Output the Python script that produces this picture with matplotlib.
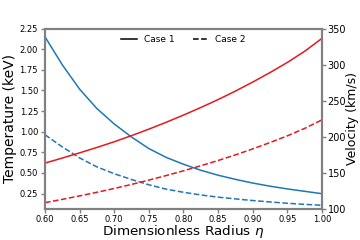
import matplotlib
matplotlib.use("Agg")
import matplotlib.pyplot as plt
import numpy as np

eta = [0.600, 0.625, 0.650, 0.675, 0.700, 0.725, 0.750, 0.775, 0.800,
       0.825, 0.850, 0.875, 0.900, 0.925, 0.950, 0.975, 1.000]

temp_case1 = [2.15, 1.81, 1.515, 1.280, 1.093, 0.935, 0.795, 0.688, 0.605,
              0.532, 0.472, 0.422, 0.377, 0.339, 0.306, 0.277, 0.248]
temp_case2 = [0.963, 0.815, 0.682, 0.573, 0.490, 0.420, 0.356, 0.303, 0.265,
              0.233, 0.206, 0.185, 0.165, 0.148, 0.132, 0.119, 0.107]

vel_case1 = [163.4, 170.4, 177.6, 185.1, 193.0, 201.5, 210.5, 220.0, 230.0,
             240.5, 251.5, 263.3, 275.8, 289.0, 303.0, 318.5, 336.4]
vel_case2 = [108.5, 113.1, 117.9, 122.9, 128.2, 133.8, 139.8, 146.1, 152.7,
             159.7, 167.0, 174.8, 183.1, 191.9, 201.2, 211.5, 223.4]

legend_labels = ["Case 1", "Case 2"]

blue = "#1f77b4"
red = "#e31a1c"
spine_gray = "#808080"

fig = plt.figure(figsize=(3.6, 2.4), dpi=100)
ax = fig.add_axes([0.125, 0.130, 0.7694, 0.751])
ax2 = ax.twinx()

ax.plot(eta, temp_case1, color=blue, lw=1.1, ls="-")
ax.plot(eta, temp_case2, color=blue, lw=1.1, ls="--")
ax2.plot(eta, vel_case1, color=red, lw=1.1, ls="-")
ax2.plot(eta, vel_case2, color=red, lw=1.1, ls="--")

ax.set_xlim(0.6, 1.0)
ax.set_ylim(0.065, 2.25)
ax2.set_ylim(100, 350)
ax.set_xticks(np.arange(0.60, 1.001, 0.05))
ax.set_xticklabels([f"{v:.2f}" for v in np.arange(0.60, 1.001, 0.05)])
ax.set_yticks(np.arange(0.25, 2.251, 0.25))
ax.set_yticklabels([f"{v:.2f}" for v in np.arange(0.25, 2.251, 0.25)])
ax2.set_yticks(np.arange(100, 351, 50))

for a in (ax, ax2):
    for s in a.spines.values():
        s.set_color(spine_gray)
        s.set_linewidth(1.5)
    a.tick_params(colors=spine_gray, labelcolor="black", length=3, width=1, pad=2)
ax.tick_params(axis="both", labelsize=6)
ax.tick_params(axis="x", pad=1.5)
ax2.tick_params(axis="y", labelsize=7, pad=1)

ax.set_xlabel(r"Dimensionless Radius $\eta$", fontsize=9.7, labelpad=-0.5)
ax.set_ylabel("Temperature (keV)", fontsize=10, labelpad=2)
ax2.set_ylabel("Velocity (km/s)", fontsize=9)
ax2.yaxis.set_label_coords(1.087, 0.5)

h1, = ax.plot([], [], color="black", lw=1.1, ls="-")
h2, = ax.plot([], [], color="black", lw=1.1, ls="--")
ax.legend([h1, h2], legend_labels, loc="upper center", ncol=2, frameon=False,
          fontsize=6.5, handlelength=1.7, columnspacing=2.0, borderaxespad=0.3)

fig.savefig("out.png", dpi=100)
